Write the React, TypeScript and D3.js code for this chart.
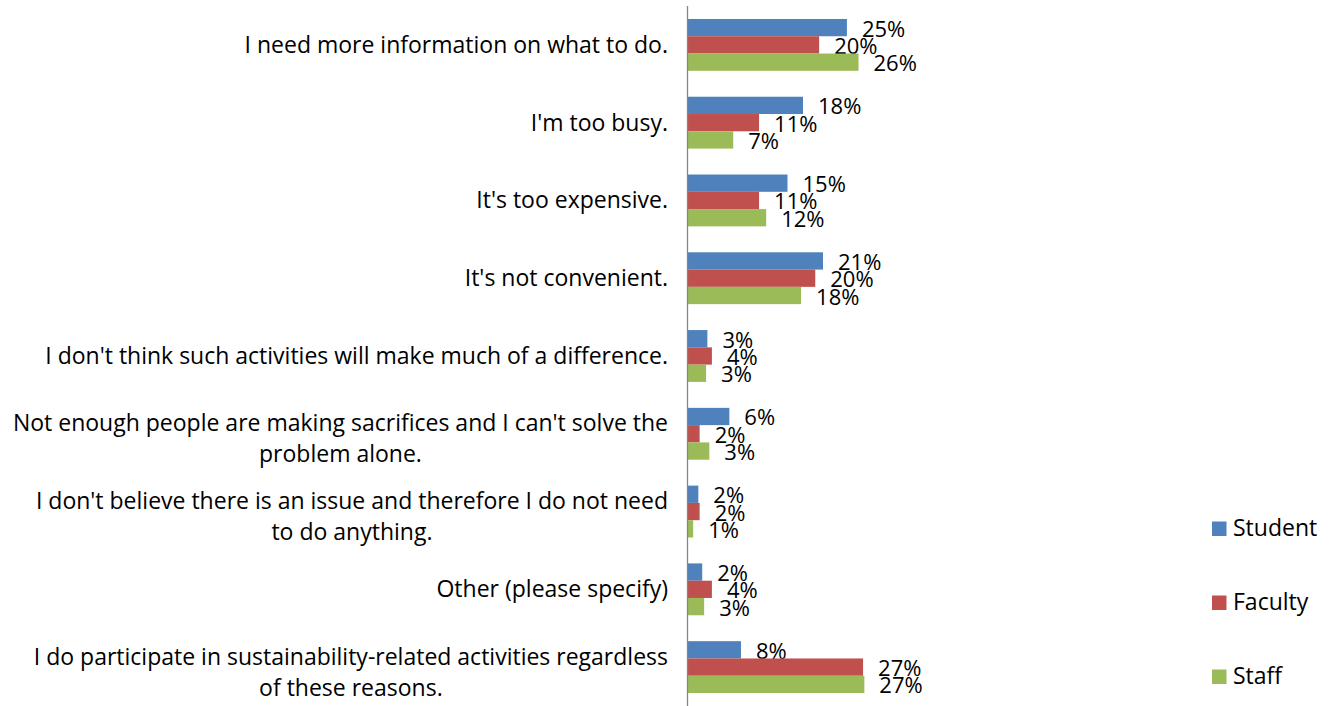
import * as d3 from "d3";
import * as React from "react";

const categories = [
  "I need more information on what to do.",
  "I'm too busy.",
  "It's too expensive.",
  "It's not convenient.",
  "I don't think such activities will make much of a difference.",
  "Not enough people are making sacrifices and I can't solve the\nproblem alone.",
  "I don't believe there is an issue and therefore I do not need\nto do anything.",
  "Other (please specify)",
  "I do participate in sustainability-related activities regardless\nof these reasons.",
];

const seriesNames = ["Student", "Faculty", "Staff"];
const seriesColors = ["#4F81BD", "#C0504D", "#9BBB59"];

// shares (labels are rounded)
const student = [0.246, 0.178, 0.154, 0.209, 0.030, 0.064, 0.016, 0.022, 0.082];
const faculty = [0.203, 0.110, 0.110, 0.197, 0.037, 0.018, 0.018, 0.037, 0.271];
const staff = [0.264, 0.070, 0.121, 0.175, 0.028, 0.033, 0.008, 0.025, 0.273];

const seriesValues = [student, faculty, staff];

const font = "'Open Sans', Lato, sans-serif";

function measure(text: string, size: number) {
  const ctx = document.createElement("canvas").getContext("2d");
  if (!ctx) return text.length * size * 0.5;
  ctx.font = `${size}px ${font}`;
  return ctx.measureText(text).width;
}

export default function App() {
  const width = 1334;
  const height = 706;
  const plotLeft = 688;
  const plotTop = 6;
  const plotBottom = 706;
  const catSize = 23;
  const labelSize = 22;
  const lineHeight = 31;
  const labelRight = 668;

  const x = d3.scaleLinear([0, 0.3], [plotLeft, plotLeft + 193.8]);
  const y = d3
    .scaleBand(categories, [plotTop, plotBottom])
    .paddingInner(1 / 3)
    .paddingOuter(1 / 6);
  const inner = d3.scaleBand(seriesNames, [0, y.bandwidth()]);
  const pct = d3.format(".0%");

  const legendY = d3.scalePoint(seriesNames, [528.5, 676.5]);

  return (
    <svg
      width={width}
      height={height}
      style={{ position: "absolute", left: 0, top: 0, background: "#fff" }}
      fontFamily={font}
      fontSize={labelSize}
    >
      {categories.map((c) => {
        const lines = c.split("\n");
        const cy = (y(c) ?? 0) + y.bandwidth() / 2;
        const first =
          cy - ((lines.length - 1) * lineHeight) / 2 + 8 + (lines.length - 1) * 5;
        const blockW = d3.max(lines, (l) => measure(l, catSize)) ?? 0;
        const mid = labelRight - blockW / 2;
        return (
          <text key={c} textAnchor="middle" fill="#000" fontSize={catSize}>
            {lines.map((l, i) => (
              <tspan key={i} x={mid} y={first + i * lineHeight}>
                {l}
              </tspan>
            ))}
          </text>
        );
      })}

      {categories.map((c, ci) =>
        seriesNames.map((s, si) => {
          const v = seriesValues[si][ci];
          const by = (y(c) ?? 0) + (inner(s) ?? 0);
          return (
            <g key={c + s}>
              <rect
                x={x(0)}
                y={by}
                width={x(v) - x(0)}
                height={inner.bandwidth()}
                fill={seriesColors[si]}
              />
              <text x={x(v) + 15} y={by + inner.bandwidth() / 2 + 9} fill="#000">
                {pct(v)}
              </text>
            </g>
          );
        })
      )}

      <line
        x1={plotLeft - 0.5}
        x2={plotLeft - 0.5}
        y1={plotTop}
        y2={plotBottom}
        stroke="#868686"
        strokeWidth={1.3}
      />

      {seriesNames.map((s, i) => (
        <g key={s}>
          <rect
            x={1212}
            y={(legendY(s) ?? 0) - 7}
            width={14.5}
            height={14.5}
            fill={seriesColors[i]}
          />
          <text x={1233} y={(legendY(s) ?? 0) + 7.5} fill="#000" fontSize={23}>
            {s}
          </text>
        </g>
      ))}
    </svg>
  );
}
